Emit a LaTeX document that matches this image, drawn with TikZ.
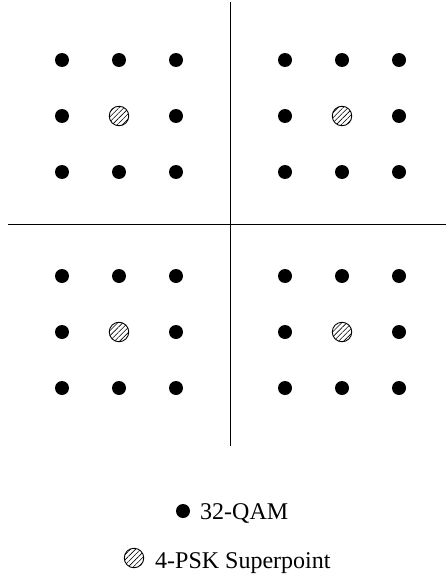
\documentclass[tikz,border=0pt]{standalone}
\usepackage{fontspec}
\setmainfont{Liberation Serif}
\usetikzlibrary{patterns.meta}
\begin{document}
\begin{tikzpicture}[x=1pt,y=-1pt,
  dot/.style={circle,fill=black,inner sep=0pt,minimum size=14pt},
  superpt/.style={circle,draw=black,line width=0.9pt,inner sep=0pt,minimum size=19.5pt,
    pattern={Lines[angle=45,distance=3.6pt,line width=0.6pt]}},
  axis/.style={line width=1pt},
  lbl/.style={anchor=base west,inner sep=0pt,font=\fontsize{24}{28}\selectfont}]
\useasboundingbox (0,0) rectangle (446,578);
\coordinate (vt) at (230,2);
\coordinate (vb) at (230,446);
\coordinate (hl) at (8,224);
\coordinate (hr) at (446,224);
\draw[axis] (vt) -- (vb);
\draw[axis] (hl) -- (hr);
\foreach \qx/\qy [count=\q] in {0/0,223/0,0/216,223/216}{
  \foreach \i/\x in {1/62,2/119,3/176}{
    \foreach \j/\y in {1/60,2/116,3/172}{
      \pgfmathtruncatemacro{\ctr}{(\i==2)&&(\j==2)}
      \ifnum\ctr=1
        \node[superpt] (s\q) at (\x+\qx,\y+\qy) {};
      \else
        \node[dot] (d\q\i\j) at (\x+\qx,\y+\qy) {};
      \fi
    }
  }
}
\node[dot] (legdot) at (183,511) {};
\node[lbl] (legqam) at (200,519) {32-QAM};
\node[superpt] (legsp) at (134,558) {};
\node[lbl] (legpsk) at (155,568) {4-PSK Superpoint};
\end{tikzpicture}
\end{document}
